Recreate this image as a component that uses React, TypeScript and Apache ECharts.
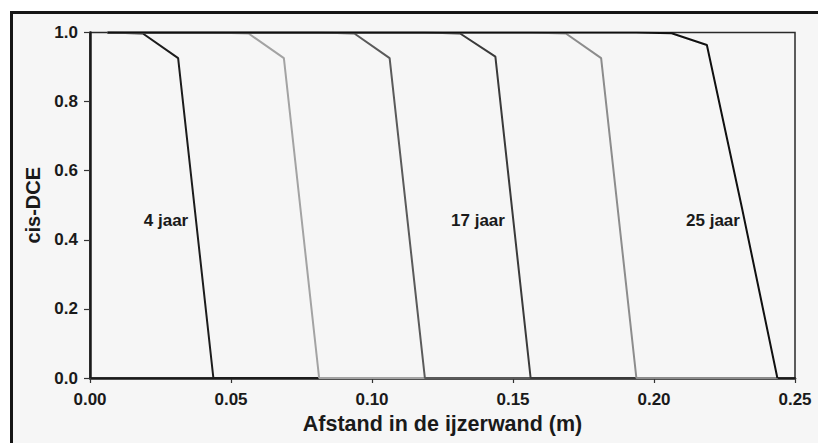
import React, { useEffect, useRef } from "react";
import * as echarts from "echarts";

const xPositions = [0.00625, 0.01875, 0.03125, 0.04375, 0.05625, 0.06875, 0.08125, 0.09375, 0.10625, 0.11875, 0.13125, 0.14375, 0.15625, 0.16875, 0.18125, 0.19375, 0.20625, 0.21875, 0.23125, 0.24375];

const curve1 = [1, 0.997, 0.926, 0, 0, 0, 0, 0, 0, 0, 0, 0, 0, 0, 0, 0, 0, 0, 0, 0];
const curve2 = [1, 1, 1, 1, 0.997, 0.926, 0, 0, 0, 0, 0, 0, 0, 0, 0, 0, 0, 0, 0, 0];
const curve3 = [1, 1, 1, 1, 1, 1, 1, 0.997, 0.926, 0, 0, 0, 0, 0, 0, 0, 0, 0, 0, 0];
const curve4 = [1, 1, 1, 1, 1, 1, 1, 1, 1, 1, 0.997, 0.93, 0, 0, 0, 0, 0, 0, 0, 0];
const curve5 = [1, 1, 1, 1, 1, 1, 1, 1, 1, 1, 1, 1, 1, 0.997, 0.926, 0, 0, 0, 0, 0];
const curve6 = [1, 1, 1, 1, 1, 1, 1, 1, 1, 1, 1, 1, 1, 1, 1, 1, 0.998, 0.964, 0.49, 0];

const curves = [curve1, curve2, curve3, curve4, curve5, curve6];
const curveColors = ["#1c1c1c", "#a3a3a3", "#5a5a5a", "#3a3a3a", "#8c8c8c", "#101010"];

const xTicks = [0, 0.05, 0.1, 0.15, 0.2, 0.25];
const yTicks = [0, 0.2, 0.4, 0.6, 0.8, 1.0];

const curveLabels = ["4 jaar", "17 jaar", "25 jaar"];

const FONT = "'Liberation Sans', Arial, sans-serif";

export default function App() {
  const ref = useRef<HTMLDivElement>(null);

  useEffect(() => {
    document.body.style.margin = "0";
    const chart = echarts.init(ref.current!, null, { renderer: "svg" });
    const labelStyle = (text: string) => ({
      text,
      fontFamily: FONT,
      fontWeight: "bold",
      fontSize: 17,
      fill: "#1a1a1a",
      align: "center",
      verticalAlign: "middle",
    });
    chart.setOption({
      animation: false,
      backgroundColor: "#ffffff",
      grid: {
        left: 90,
        right: 23,
        top: 32.5,
        bottom: 65,
        show: true,
        borderColor: "#2a2a2a",
        borderWidth: 1.5,
        backgroundColor: "transparent",
      },
      xAxis: {
        type: "value",
        min: xTicks[0],
        max: xTicks[xTicks.length - 1],
        interval: 0.05,
        name: "Afstand in de ijzerwand (m)",
        nameLocation: "middle",
        nameGap: 34,
        nameTextStyle: { fontFamily: FONT, fontWeight: "bold", fontSize: 21.5, color: "#1a1a1a" },
        axisLine: { show: true, onZero: false, lineStyle: { color: "#1a1a1a", width: 2.5 } },
        axisTick: { show: true, inside: false, length: 5, lineStyle: { color: "#333", width: 1.2 } },
        axisLabel: {
          fontFamily: FONT,
          fontWeight: "bold",
          fontSize: 17,
          color: "#1a1a1a",
          margin: 13,
          formatter: (v: number) => v.toFixed(2),
        },
        splitLine: { show: false },
      },
      yAxis: {
        type: "value",
        min: yTicks[0],
        max: yTicks[yTicks.length - 1],
        interval: 0.2,
        name: "cis-DCE",
        nameLocation: "middle",
        nameGap: 46,
        nameTextStyle: { fontFamily: FONT, fontWeight: "bold", fontSize: 20, color: "#1a1a1a" },
        axisLine: { show: true, onZero: false, lineStyle: { color: "#1a1a1a", width: 2.5 } },
        axisTick: { show: true, inside: false, length: 6, lineStyle: { color: "#333", width: 1.2 } },
        axisLabel: {
          fontFamily: FONT,
          fontWeight: "bold",
          fontSize: 17,
          color: "#1a1a1a",
          margin: 12,
          formatter: (v: number) => v.toFixed(1),
        },
        splitLine: { show: false },
      },
      series: curves.map((c, i) => ({
        type: "line",
        data: xPositions.map((x, j) => [x, c[j]]),
        showSymbol: false,
        symbol: "none",
        lineStyle: { color: curveColors[i], width: 2 },
        z: 3,
      })),
      graphic: [
        {
          type: "rect",
          shape: { x: 11.5, y: 12.5, width: 830, height: 450 },
          style: { fill: "#f6f6f6", stroke: "#151515", lineWidth: 3 },
          z: -10,
          silent: true,
        },
        { type: "text", x: 166, y: 220, style: labelStyle(curveLabels[0]), z: 10 },
        { type: "text", x: 478, y: 220, style: labelStyle(curveLabels[1]), z: 10 },
        { type: "text", x: 713, y: 220, style: labelStyle(curveLabels[2]), z: 10 },
      ],
    });
    return () => chart.dispose();
  }, []);

  return <div ref={ref} style={{ position: "fixed", left: 0, top: 0, width: 818, height: 443 }} />;
}
